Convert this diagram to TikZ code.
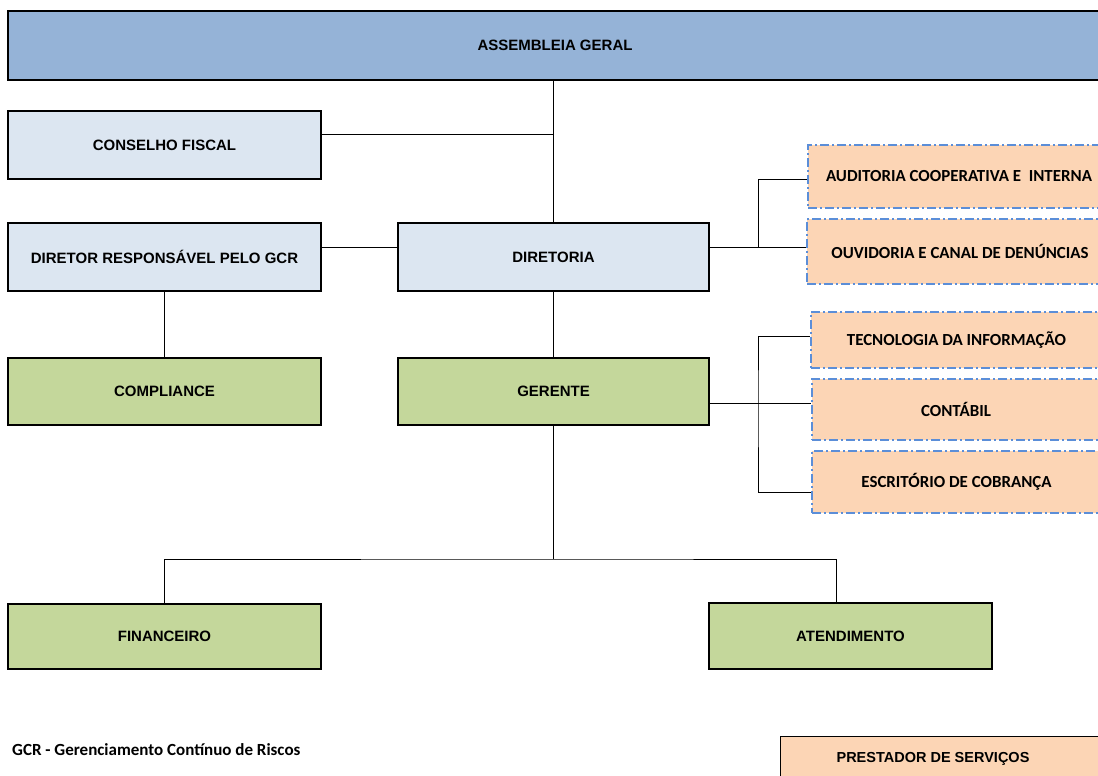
\documentclass[tikz,border=0pt]{standalone}
\usepackage{fontspec}
\setmainfont{Liberation Sans}
\newfontfamily\calibri{Carlito}
\definecolor{azulforte}{HTML}{95B3D7}
\definecolor{azulclaro}{HTML}{DCE6F1}
\definecolor{verde}{HTML}{C4D79B}
\definecolor{laranja}{HTML}{FCD5B5}
\definecolor{tracejado}{HTML}{5B8ED8}
\begin{document}
\begin{tikzpicture}[x=1pt,y=-1pt,
    caixa/.style={draw, line width=1.2pt, inner sep=0pt, font=\bfseries\fontsize{15}{18}\selectfont},
    orgao/.style={caixa, fill=azulclaro, minimum width=313pt, minimum height=68pt},
    setor/.style={caixa, fill=verde, minimum width=313pt, minimum height=67pt},
    servico/.style={draw=tracejado, fill=laranja, line width=2pt, inner sep=0pt,
        dash pattern=on 9pt off 3pt on 2pt off 3pt,
        font=\calibri\bfseries\fontsize{16.9}{20}\selectfont},
    ligacao/.style={line width=1pt}]
    \clip (0,0) rectangle (1098,776);
    \node[caixa, fill=azulforte, minimum width=1094pt, minimum height=69pt] (assembleia) at (555,45.5) {ASSEMBLEIA GERAL};
    \node[orgao] (conselho) at (164.5,145) {CONSELHO FISCAL};
    \node[orgao] (diretor) at (164.5,257) {DIRETOR RESPONSÁVEL PELO GCR};
    \node[orgao, minimum width=311pt] (diretoria) at (553.5,257) {DIRETORIA};
    \node[setor] (compliance) at (164.5,391.5) {COMPLIANCE};
    \node[setor, minimum width=311pt] (gerente) at (553.5,391.5) {GERENTE};
    \node[setor, minimum height=65pt] (financeiro) at (164.5,636.5) {FINANCEIRO};
    \node[setor, minimum width=283pt, minimum height=66pt] (atendimento) at (850.5,636) {ATENDIMENTO};

    \node[servico, minimum width=302pt, minimum height=63pt] (auditoria) at (959,176.5) {AUDITORIA COOPERATIVA E\ \ INTERNA};
    \node[servico, minimum width=306pt, minimum height=65pt] (ouvidoria) at (960,251.5) {OUVIDORIA E CANAL DE DENÚNCIAS};
    \node[servico, minimum width=291pt, minimum height=56pt] (tecnologia) at (956.5,340) {TECNOLOGIA DA INFORMAÇÃO};
    \node[servico, minimum width=288pt, minimum height=61pt] (contabil) at (956,409.5) {CONTÁBIL};
    \node[servico, minimum width=289pt, minimum height=62pt] (escritorio) at (956.5,482) {ESCRITÓRIO DE COBRANÇA};

    \node[caixa, fill=laranja, anchor=north west, minimum width=340pt, minimum height=60pt] (prestador) at (780,736) {};
    \node[font=\bfseries\fontsize{14.5}{17}\selectfont] (prestadortexto) at (933,759) {PRESTADOR DE SERVIÇOS};
    \node[anchor=west, inner sep=0pt, font=\calibri\bfseries\fontsize{17}{20}\selectfont] (nota) at (12,750) {GCR - Gerenciamento Contínuo de Riscos};

    \coordinate (ramo1) at (758,247);
    \coordinate (ramo2) at (758,403);
    \coordinate (juncao) at (553.5,559);

    \draw[ligacao] (diretoria.north) -- (diretoria.north |- assembleia.south);
    \draw[ligacao] ([yshift=11pt]conselho.east) -- ([yshift=11pt]conselho.east -| diretoria.north);
    \draw[ligacao] ([yshift=10pt]diretor.east) -- ([yshift=10pt]diretoria.west);
    \draw[ligacao] (diretor.south) -- (compliance.north);
    \draw[ligacao] (diretoria.south) -- (gerente.north);
    \draw[ligacao] (diretoria.east |- ramo1) -- (ramo1 -| ouvidoria.west);
    \draw[ligacao] (ramo1) |- ([yshift=-2.5pt]auditoria.west);
    \draw[ligacao] (gerente.east |- ramo2) -- (ramo2 -| contabil.west);
    \draw[ligacao] ([yshift=4pt]tecnologia.west) -| (ramo2) |- ([yshift=-10pt]escritorio.west);
    \draw[ligacao] (gerente.south) -- (juncao);
    \draw[ligacao] (financeiro.north) |- (juncao) -| ([xshift=-14.5pt]atendimento.north);
\end{tikzpicture}
\end{document}
